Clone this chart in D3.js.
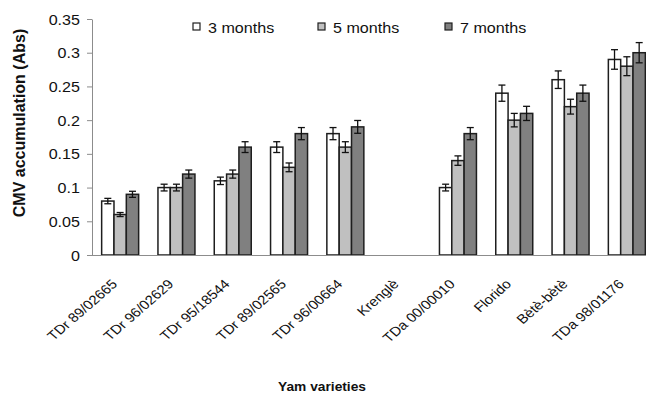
<!DOCTYPE html>
<html>
<head>
<meta charset="utf-8">
<script src="https://cdn.jsdelivr.net/npm/d3@7"></script>
<style>
  html, body { margin: 0; padding: 0; background: #fff; }
  svg { display: block; font-family: "Liberation Sans", Arial, sans-serif; }
</style>
</head>
<body>
<svg id="chart" width="646" height="394"></svg>
<script>
const categories = ["TDr 89/02665", "TDr 96/02629", "TDr 95/18544", "TDr 89/02565", "TDr 96/00664",
                    "Krenglè", "TDa 00/00010", "Florido", "Bètè-bètè", "TDa 98/01176"];
const seriesNames = ["3 months", "5 months", "7 months"];
const months3 = [0.08, 0.10, 0.11, 0.16, 0.18, null, 0.10, 0.24, 0.26, 0.29];
const months5 = [0.06, 0.10, 0.12, 0.13, 0.16, null, 0.14, 0.20, 0.22, 0.28];
const months7 = [0.09, 0.12, 0.16, 0.18, 0.19, null, 0.18, 0.21, 0.24, 0.30];
const err3 = [0.004, 0.005, 0.0055, 0.008, 0.009, null, 0.005, 0.012, 0.013, 0.0145];
const err5 = [0.003, 0.005, 0.006, 0.0065, 0.008, null, 0.007, 0.010, 0.011, 0.014];
const err7 = [0.0045, 0.006, 0.008, 0.009, 0.0095, null, 0.009, 0.0105, 0.012, 0.015];
const yTicks = [0, 0.05, 0.1, 0.15, 0.2, 0.25, 0.3, 0.35];
const yTickLabels = ["0", "0.05", "0.1", "0.15", "0.2", "0.25", "0.3", "0.35"];
const colors = ["#ffffff", "#c0c0c0", "#808080"];

const values = [months3, months5, months7];
const errors = [err3, err5, err7];

const svg = d3.select("#chart");
const xLeft = 92, xRight = 655, yBottom = 255, yTop = 19;
const SX = 1.15; // horizontal text stretch seen in the reference

const x = d3.scaleBand().domain(categories).range([xLeft, xRight])
  .paddingInner(0.343).paddingOuter(0.1715);
const xs = d3.scaleBand().domain(seriesNames).range([0, x.bandwidth()]);
const y = d3.scaleLinear().domain([0, 0.35]).range([yBottom, yTop]);

// Y axis
const yAxis = svg.append("g").attr("transform", `translate(${xLeft},0)`)
  .call(d3.axisLeft(y).tickValues(yTicks).tickFormat((d, i) => yTickLabels[i]).tickSize(5).tickSizeOuter(0));
yAxis.select(".domain").attr("stroke", "#8c8c8c");
yAxis.selectAll(".tick line").attr("stroke", "#8c8c8c");
yAxis.selectAll(".tick text")
  .attr("x", 0).attr("dy", "0.36em")
  .attr("transform", `translate(-12,0) scale(${SX},1)`)
  .attr("font-size", 14).attr("fill", "#111").attr("text-anchor", "end")
  .attr("font-family", "Liberation Sans, Arial, sans-serif");

// Bars
const bars = svg.append("g");
seriesNames.forEach((s, si) => {
  const g = bars.append("g");
  categories.forEach((c, ci) => {
    const v = values[si][ci];
    if (v == null) return;
    g.append("rect")
      .attr("x", x(c) + xs(s))
      .attr("y", y(v))
      .attr("width", xs.bandwidth())
      .attr("height", y(0) - y(v))
      .attr("fill", colors[si])
      .attr("stroke", "#1e1e1e")
      .attr("stroke-width", 1.5);
  });
});

// Error bars
const eb = svg.append("g").attr("stroke", "#111").attr("stroke-width", 1.3);
seriesNames.forEach((s, si) => {
  categories.forEach((c, ci) => {
    const v = values[si][ci], e = errors[si][ci];
    if (v == null) return;
    const cx = x(c) + xs(s) + xs.bandwidth() / 2;
    eb.append("line").attr("x1", cx).attr("x2", cx).attr("y1", y(v - e)).attr("y2", y(v + e));
    eb.append("line").attr("x1", cx - 3.5).attr("x2", cx + 3.5).attr("y1", y(v + e)).attr("y2", y(v + e));
    eb.append("line").attr("x1", cx - 3.5).attr("x2", cx + 3.5).attr("y1", y(v - e)).attr("y2", y(v - e));
  });
});

// X axis
const xAxis = svg.append("g").attr("transform", `translate(0,${yBottom})`)
  .call(d3.axisBottom(x).tickSize(0).tickSizeOuter(0));
xAxis.select(".domain").attr("stroke", "#8c8c8c").attr("d", `M${xLeft - 5},0.5H646`);
xAxis.selectAll(".tick text")
  .attr("x", 0).attr("y", 0).attr("dy", 0)
  .attr("transform", `translate(-2,30) scale(${SX},1) rotate(-45)`)
  .attr("text-anchor", "end")
  .attr("font-size", 13).attr("fill", "#111")
  .attr("font-family", "Liberation Sans, Arial, sans-serif");

// Axis titles
svg.append("text")
  .attr("transform", `translate(25,123) rotate(-90)`)
  .attr("text-anchor", "middle")
  .attr("font-size", 16).attr("font-weight", "bold").attr("fill", "#111")
  .text("CMV accumulation (Abs)");
svg.append("text")
  .attr("transform", `translate(322,391) scale(1.06,1)`)
  .attr("text-anchor", "middle")
  .attr("font-size", 13).attr("font-weight", "bold").attr("fill", "#111")
  .text("Yam varieties");

// Legend
const legendX = [193, 318, 445];
const leg = svg.append("g");
seriesNames.forEach((s, i) => {
  leg.append("rect").attr("x", legendX[i]).attr("y", 23).attr("width", 7).attr("height", 7)
    .attr("fill", colors[i]).attr("stroke", "#1e1e1e").attr("stroke-width", 1.2);
  leg.append("text")
    .attr("transform", `translate(${legendX[i] + 15},33) scale(${SX},1)`)
    .attr("font-size", 14).attr("fill", "#111")
    .text(s);
});
</script>
</body>
</html>
